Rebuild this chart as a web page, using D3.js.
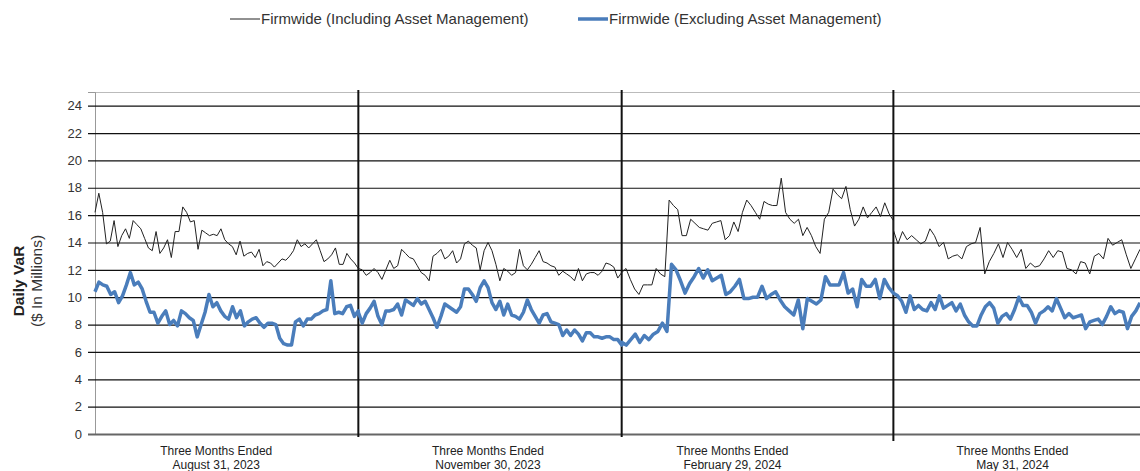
<!DOCTYPE html>
<html>
<head>
<meta charset="utf-8">
<script src="https://cdn.jsdelivr.net/npm/d3@7"></script>
<style>
  body { margin: 0; background: #fff; }
  svg { display: block; font-family: "Liberation Sans", Arial, sans-serif; }
</style>
</head>
<body>
<svg id="chart" width="1140" height="471"></svg>
<script>
// quarter end labels and length of each quarter (trading days, last one cut off)
var quarterTitle = "Three Months Ended";
var quarterLabels = ["August 31, 2023", "November 30, 2023", "February 29, 2024", "May 31, 2024"];
var quarterDays = [63, 63, 65, 59];
var labelDays = [29, 94, 152.5, 219.5];
var yTicks = [0, 2, 4, 6, 8, 10, 12, 14, 16, 18, 20, 22, 24];

// Firmwide (Including Asset Management), daily VaR $mm
var incQ1 = [16.2, 17.6, 16.2, 13.9, 14.1, 15.6, 13.7, 14.5, 15.0, 14.3, 15.6, 15.3, 15.0, 14.3, 13.6, 13.4, 14.8, 13.2, 13.6, 14.2,
  12.9, 14.8, 14.8, 16.6, 16.2, 15.5, 15.6, 13.5, 14.9, 14.7, 14.5, 14.6, 14.5, 15.0, 14.2, 13.9, 13.7, 13.1, 14.1, 13.0,
  13.2, 13.3, 12.9, 13.5, 12.3, 12.6, 12.5, 12.2, 12.5, 12.8, 12.7, 13.0, 13.4, 14.2, 13.7, 13.9, 13.6, 13.9, 14.2, 13.4,
  12.6, 12.8, 13.1, 13.6, 12.4, 12.4, 13.2, 12.8, 12.5, 12.1];
var incQ2 = [12.1, 12.0, 11.6, 11.8, 12.1, 11.8, 11.3, 12.0, 12.7, 12.1, 12.3, 13.5, 13.2, 12.9, 12.8, 12.3, 11.8, 11.6, 11.2, 13.0,
  13.2, 13.5, 12.8, 13.0, 13.4, 12.5, 12.8, 13.9, 14.1, 13.8, 13.6, 12.0, 13.4, 14.0, 13.4, 12.4, 11.2, 12.1, 11.9, 11.6,
  11.8, 13.5, 12.3, 12.0, 12.4, 12.9, 13.4, 12.6, 12.5, 12.3, 12.2, 11.6, 11.9, 11.7, 11.5, 11.2, 12.1, 11.2, 11.7, 11.8,
  11.8, 11.6, 11.9, 12.5, 12.4, 12.2, 11.4, 11.8];
var incQ3 = [11.8, 12.1, 11.3, 10.6, 10.2, 10.9, 10.9, 10.9, 12.1, 11.7, 11.5, 17.1, 16.7, 16.4, 14.5, 14.5, 15.7, 15.4, 15.1, 15.0,
  14.9, 15.4, 15.5, 15.6, 14.2, 14.5, 15.5, 14.8, 16.2, 17.1, 16.7, 16.2, 15.7, 17.0, 16.8, 16.7, 16.7, 18.7, 16.2, 15.7,
  15.4, 15.7, 14.5, 15.1, 14.5, 13.7, 13.2, 15.7, 16.2, 17.9, 17.5, 17.2, 18.1, 16.4, 15.2, 15.7, 16.6, 15.8,
  16.2, 16.6, 15.9, 16.9, 16.1, 15.6];
var incQ4 = [14.9, 13.9, 14.8, 14.2, 14.5, 14.2, 13.9, 14.1, 15.0, 14.5, 13.7, 14.0, 12.8, 13.0, 13.1, 12.8, 13.7, 13.9, 14.0, 15.1,
  11.7, 12.6, 13.2, 13.9, 12.9, 14.0, 13.5, 12.9, 13.5, 12.1, 12.5, 12.2, 12.3, 12.8, 13.4, 12.9, 13.4, 13.3,
  12.1, 12.0, 11.7, 12.6, 12.5, 11.7, 13.0, 13.2, 12.8, 14.3, 13.8, 14.0, 14.2, 13.1, 12.1, 12.8, 13.5];

// Firmwide (Excluding Asset Management), daily VaR $mm
var excQ1 = [10.4, 11.1, 10.9, 10.8, 10.2, 10.4, 9.6, 10.1, 10.9, 11.8, 10.9, 11.1, 10.6, 9.7, 8.9, 8.9, 8.1, 8.6, 9.0, 8.0,
  8.3, 7.9, 9.0, 8.8, 8.5, 8.3, 7.1, 8.0, 8.9, 10.2, 9.3, 9.6, 9.0, 8.6, 8.4, 9.3, 8.5, 9.0, 7.9, 8.2,
  8.4, 8.5, 8.1, 7.8, 8.1, 8.1, 8.0, 7.0, 6.6, 6.5, 6.5, 8.2, 8.4, 7.9, 8.4, 8.4, 8.7, 8.8, 9.0, 9.1,
  11.2, 8.8, 8.9, 8.8, 9.3, 9.4, 8.6, 9.0];
var excQ2 = [8.9, 8.1, 8.8, 9.2, 9.7, 8.6, 8.0, 9.0, 9.0, 9.1, 9.5, 8.7, 9.8, 9.6, 9.4, 9.9, 9.5, 9.7, 9.1, 8.5,
  7.8, 8.6, 9.5, 9.3, 9.1, 8.9, 9.3, 10.6, 10.6, 10.2, 9.7, 10.7, 11.2, 10.7, 9.6, 9.1, 9.7, 8.7, 9.5, 8.7,
  8.6, 8.4, 8.9, 9.8, 9.1, 8.6, 8.1, 8.7, 8.8, 8.2, 8.1, 8.0, 7.2, 7.6, 7.2, 7.6, 7.3, 6.8, 7.4, 7.4,
  7.1, 7.1, 7.0, 7.1, 7.1, 6.9, 6.9, 6.5];
var excQ3 = [6.7, 6.5, 6.9, 7.3, 6.7, 7.2, 6.9, 7.3, 7.5, 8.1, 7.5, 12.4, 12.0, 11.2, 10.3, 11.0, 11.5, 12.1, 11.4,
  12.0, 11.2, 11.4, 11.6, 10.2, 10.4, 10.8, 11.3, 9.9, 9.9, 10.0, 10.0, 10.8, 9.9, 10.2, 10.4, 9.8, 9.3, 9.0, 8.7,
  9.8, 7.7, 9.9, 9.7, 9.5, 9.8, 11.5, 10.9, 10.9, 10.9, 11.8, 10.3, 10.6, 9.3, 11.3, 10.8, 10.8,
  11.3, 9.9, 11.3, 10.7, 10.3];
var excQ4 = [10.3, 10.1, 9.7, 8.9, 10.1, 9.1, 9.4, 9.1, 9.0, 9.6, 9.1, 10.1, 9.2, 9.4, 9.6, 9.0, 9.5, 8.7, 8.2, 7.9,
  7.9, 8.7, 9.3, 9.6, 9.2, 8.1, 8.6, 8.8, 8.4, 9.1, 10.0, 9.4, 9.4, 8.9, 8.1, 8.8, 9.0, 9.3, 9.0, 9.9,
  9.2, 8.5, 8.8, 8.5, 8.6, 8.7, 7.7, 8.2, 8.3, 8.4, 8.0, 8.6, 9.3, 8.8, 9.0, 8.9, 7.7, 8.6, 9.0, 9.6];

var seriesNames = ["Firmwide (Including Asset Management)", "Firmwide (Excluding Asset Management)"];

// spread each quarter's readings evenly over its trading days
function toPoints(quarters) {
  var pts = [], start = 0;
  quarters.forEach(function(vals, q) {
    vals.forEach(function(v, i) {
      pts.push({ day: start + i / (vals.length - 1) * quarterDays[q], value: v });
    });
    start += quarterDays[q];
  });
  return pts;
}

var incPts = toPoints([incQ1, incQ2, incQ3, incQ4]);
var excPts = toPoints([excQ1, excQ2, excQ3, excQ4]);

var svg = d3.select("#chart");
var plotLeft = 95, plotRight = 1140, plotTop = 92, plotBottom = 434;

var x = d3.scaleLinear().domain([0, d3.sum(quarterDays)]).range([plotLeft, plotRight]);
var y = d3.scaleLinear().domain([0, 25]).range([plotBottom, plotTop]);

// top frame
svg.append("line")
  .attr("x1", plotLeft).attr("x2", plotRight).attr("y1", plotTop + 0.5).attr("y2", plotTop + 0.5)
  .attr("stroke", "#bbb").attr("stroke-width", 1);

// y axis with gridlines
var yAxis = svg.append("g")
  .attr("transform", "translate(" + plotLeft + ",0)")
  .call(d3.axisLeft(y).tickValues(yTicks).tickSize(7).tickPadding(6));
yAxis.select(".domain").attr("stroke", "#999");
yAxis.selectAll(".tick line")
  .attr("x1", -7).attr("x2", plotRight - plotLeft)
  .attr("stroke", "#111").attr("stroke-width", 1.2);
yAxis.selectAll(".tick text")
  .attr("fill", "#333").style("font-size", "13px");
yAxis.selectAll(".tick").filter(function(d) { return d === 0; }).select("line")
  .attr("stroke", "#666").attr("stroke-width", 2);

// quarter separators
var bounds = d3.cumsum(quarterDays).slice(0, 3);
svg.selectAll(".sep").data(bounds).enter().append("line")
  .attr("class", "sep")
  .attr("x1", function(d) { return x(d); }).attr("x2", function(d) { return x(d); })
  .attr("y1", 90).attr("y2", function(d, i) { return i === 2 ? 441 : 437; })
  .attr("stroke", "#111").attr("stroke-width", 2);

// series lines
var line = d3.line()
  .x(function(d) { return x(d.day); })
  .y(function(d) { return y(d.value); });

svg.append("path").datum(excPts)
  .attr("fill", "none").attr("stroke", "#4a7dbb").attr("stroke-width", 3.5)
  .attr("stroke-linejoin", "round").attr("d", line);

svg.append("path").datum(incPts)
  .attr("fill", "none").attr("stroke", "#222").attr("stroke-width", 1)
  .attr("stroke-linejoin", "round").attr("d", line);

// x labels
var xl = svg.selectAll(".qlab").data(quarterLabels).enter().append("g")
  .attr("class", "qlab")
  .attr("transform", function(d, i) { return "translate(" + x(labelDays[i]) + ",0)"; });
xl.append("text").attr("y", 455).attr("text-anchor", "middle")
  .attr("fill", "#222").style("font-size", "12px").text(quarterTitle);
xl.append("text").attr("y", 469).attr("text-anchor", "middle")
  .attr("fill", "#222").style("font-size", "12px").text(function(d) { return d; });

// y title
var yt = svg.append("g").attr("transform", "translate(0,281) rotate(-90)");
yt.append("text").attr("x", 0).attr("y", 24).attr("text-anchor", "middle")
  .style("font-size", "15.5px").style("font-weight", "bold").attr("fill", "#222").text("Daily VaR");
yt.append("text").attr("x", 0).attr("y", 42).attr("text-anchor", "middle")
  .style("font-size", "15.5px").attr("fill", "#333").text("($ In Millions)");

// legend
var legend = [
  { name: seriesNames[0], x: 230, color: "#222", w: 1 },
  { name: seriesNames[1], x: 578, color: "#4a7dbb", w: 3.5 }
];
var lg = svg.selectAll(".leg").data(legend).enter().append("g")
  .attr("class", "leg")
  .attr("transform", function(d) { return "translate(" + d.x + ",19)"; });
lg.append("line").attr("x1", 0).attr("x2", 30).attr("y1", 0).attr("y2", 0)
  .attr("stroke", function(d) { return d.color; })
  .attr("stroke-width", function(d) { return d.w; });
lg.append("text").attr("x", 31).attr("y", 5)
  .style("font-size", "15px").attr("fill", "#333")
  .text(function(d) { return d.name; });
</script>
</body>
</html>
